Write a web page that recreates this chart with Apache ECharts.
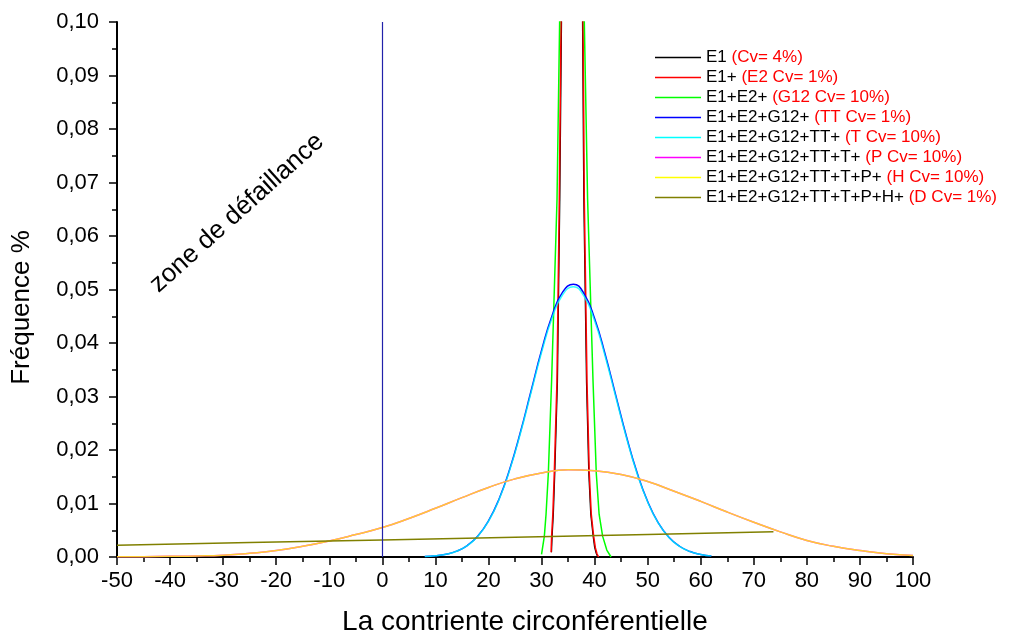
<!DOCTYPE html>
<html>
<head>
<meta charset="utf-8">
<script src="https://cdn.jsdelivr.net/npm/echarts@6/dist/echarts.min.js"></script>
<style>
  html, body { margin: 0; padding: 0; background: #ffffff; }
  #chart { width: 1017px; height: 641px; }
</style>
</head>
<body>
<div id="chart"></div>
<script>
const FONT = '"Liberation Sans", Arial, Helvetica, sans-serif';

// Legend entries: series name (black) followed by the added variable (red)
const seriesNames = [
  'E1', 'E1+', 'E1+E2+', 'E1+E2+G12+', 'E1+E2+G12+TT+',
  'E1+E2+G12+TT+T+', 'E1+E2+G12+TT+T+P+', 'E1+E2+G12+TT+T+P+H+'
];
const seriesNotes = [
  '(Cv= 4%)', '(E2 Cv= 1%)', '(G12 Cv= 10%)', '(TT Cv= 1%)', '(T Cv= 10%)',
  '(P Cv= 10%)', '(H Cv= 10%)', '(D Cv= 1%)'
];
const seriesColors = [
  '#000000', '#ff0000', '#00ff00', '#0000ff', '#00ffff', '#ff00ff', '#ffff00', '#808000'
];

// Y tick labels (French decimal comma)
const yTickLabels = ['0,00', '0,01', '0,02', '0,03', '0,04', '0,05', '0,06', '0,07', '0,08', '0,09', '0,10'];

// Boundary of the failure zone (vertical line)
const failureLimit = 0;

// Frequency curves as [circumferential stress, frequency]
const e1Curve = [
  [31.88, 0.0009], [32.0, 0.0039], [32.23, 0.008], [32.5, 0.0156], [33.0, 0.0326], [33.45, 0.0669],
  [33.77, 0.1], [34.1, 0.15], [34.6, 0.23], [35.1, 0.30], [35.75, 0.34], [36.4, 0.30],
  [36.9, 0.23], [37.4, 0.15], [37.72, 0.1], [37.96, 0.0669], [38.47, 0.0326], [38.9, 0.0156],
  [39.27, 0.008], [39.72, 0.0039], [40.0, 0.0018], [40.3, 0.0007], [40.6, 0]
];
const e2Curve = [
  [31.8, 0.0009], [31.9, 0.0039], [32.13, 0.008], [32.4, 0.0156], [32.9, 0.0326], [33.35, 0.0669],
  [33.67, 0.1], [34.0, 0.15], [34.5, 0.23], [35.0, 0.30], [35.75, 0.342], [36.5, 0.30],
  [37.0, 0.23], [37.5, 0.15], [37.82, 0.1], [38.06, 0.0669], [38.57, 0.0326], [39.0, 0.0156],
  [39.37, 0.008], [39.82, 0.0039], [40.15, 0.0017], [40.45, 0.0006], [40.75, 0]
];
const g12Curve = [
  [30.0, 0.0005], [30.53, 0.0039], [30.85, 0.008], [31.28, 0.0156], [31.9, 0.033], [32.92, 0.0669],
  [33.41, 0.1], [34.0, 0.15], [35.0, 0.195], [35.75, 0.204], [36.5, 0.195], [37.5, 0.15],
  [38.06, 0.1], [38.68, 0.0669], [39.7, 0.033], [40.32, 0.0156], [40.85, 0.008], [41.51, 0.0039],
  [42.3, 0.0013], [43.1, 0]
];
const ttCurve = [
  [8, 0.000101], [10, 0.000232], [12, 0.000525], [14, 0.00109], [16, 0.00214], [18, 0.00392],
  [20, 0.00674], [22, 0.01085], [24, 0.0164], [26, 0.02326], [28, 0.03094], [30, 0.03859],
  [32, 0.04516], [34, 0.04955], [36, 0.0510], [38, 0.04924], [40, 0.04458], [42, 0.03785],
  [44, 0.03016], [46, 0.02252], [48, 0.01578], [50, 0.01037], [52, 0.00639], [54, 0.0037],
  [56, 0.00201], [58, 0.00102], [60, 0.00048], [62, 0.00021]
];
const tCurve = [
  [8, 0.0001], [10, 0.00023], [12, 0.00052], [14, 0.00108], [16, 0.00212], [18, 0.00388],
  [20, 0.00667], [22, 0.01074], [24, 0.01624], [26, 0.02303], [28, 0.03063], [30, 0.03821],
  [32, 0.04471], [34, 0.04906], [36, 0.0505], [38, 0.04875], [40, 0.04414], [42, 0.03748],
  [44, 0.02986], [46, 0.0223], [48, 0.01562], [50, 0.01027], [52, 0.00633], [54, 0.00366],
  [56, 0.00199], [58, 0.00101], [60, 0.00048], [62, 0.00021]
];
const pCurve = [
  [-50, 0.00003], [-45, 0.00006], [-40, 0.00012], [-35, 0.0002], [-30, 0.00035], [-25, 0.0007],
  [-20, 0.0012], [-15, 0.002], [-10, 0.003], [-5, 0.0042], [0, 0.0055], [5, 0.0072],
  [10, 0.0091], [15, 0.0111], [20, 0.0130], [25, 0.0146], [30, 0.0157], [35, 0.0163],
  [40, 0.0161], [45, 0.0154], [50, 0.0141], [55, 0.0123], [60, 0.0104], [65, 0.0084],
  [70, 0.0065], [75, 0.0047], [80, 0.0031], [85, 0.0020], [90, 0.0012], [95, 0.0006], [100, 0.0003]
];
const hCurve = [
  [-50, 0.00003], [-45, 0.00006], [-40, 0.00012], [-35, 0.0002], [-30, 0.00035], [-25, 0.0007],
  [-20, 0.0012], [-15, 0.002], [-10, 0.003], [-5, 0.0042], [0, 0.0055], [5, 0.0072],
  [10, 0.0091], [15, 0.0111], [20, 0.0130], [25, 0.0146], [30, 0.0157], [35, 0.0163],
  [40, 0.0161], [45, 0.0154], [50, 0.0141], [55, 0.0123], [60, 0.0104], [65, 0.0084],
  [70, 0.0065], [75, 0.0047], [80, 0.0031], [85, 0.0020], [90, 0.0012], [95, 0.0006], [100, 0.0003]
];
const dCurve = [
  [-50, 0.0022], [-25, 0.0027], [0, 0.0032], [25, 0.0037], [50, 0.0042], [73.7, 0.0047]
];

const curves = [e1Curve, e2Curve, g12Curve, ttCurve, tCurve, pCurve, hCurve, dCurve];
const smoothFlags = [false, false, false, true, true, true, true, false];
const lineWidths = [1.2, 1.5, 1.5, 1.5, 1.5, 1.5, 1.5, 1.5];
const lineOpacity = [1, 1, 1, 1, 0.8, 1, 0.8, 1];

const chart = echarts.init(document.getElementById('chart'), null, { renderer: 'canvas' });

const series = curves.map((data, i) => ({
  name: seriesNames[i],
  type: 'line',
  data: data,
  smooth: smoothFlags[i],
  symbol: 'none',
  showSymbol: false,
  clip: true,
  color: seriesColors[i],
  lineStyle: { color: seriesColors[i], width: lineWidths[i], opacity: lineOpacity[i] },
  emphasis: { disabled: true },
  animation: false
}));

// failure-zone boundary
series[3].markLine = {
  silent: true,
  symbol: 'none',
  label: { show: false },
  lineStyle: { color: '#2222aa', width: 1.2, type: 'solid' },
  data: [{ xAxis: failureLimit }],
  animation: false
};

const option = {
  backgroundColor: '#ffffff',
  animation: false,
  grid: { left: 117, right: 104, top: 22, bottom: 80 },
  legend: {
    orient: 'vertical',
    left: 655,
    top: 49,
    padding: 0,
    itemGap: 3,
    itemWidth: 46,
    itemHeight: 1.5,
    icon: 'rect',
    data: seriesNames,
    formatter: name => name + ' {r|' + seriesNotes[seriesNames.indexOf(name)] + '}',
    textStyle: {
      fontFamily: FONT, fontSize: 17, color: '#000000', lineHeight: 17,
      rich: { r: { fontFamily: FONT, fontSize: 17, color: '#ff0000', lineHeight: 17 } }
    }
  },
  xAxis: {
    type: 'value',
    min: -50, max: 100, interval: 10,
    name: 'La contriente circonférentielle',
    nameLocation: 'middle',
    nameGap: 51,
    nameTextStyle: { fontFamily: FONT, fontSize: 28, color: '#000000', padding: [0, 0, 0, 20] },
    axisLine: { show: true, onZero: false, lineStyle: { color: '#000000', width: 2 } },
    axisTick: { show: true, length: 8, lineStyle: { color: '#000000', width: 1.5 } },
    minorTick: { show: true, splitNumber: 2, length: 5, lineStyle: { color: '#000000', width: 1.5 } },
    splitLine: { show: false },
    minorSplitLine: { show: false },
    axisLabel: { fontFamily: FONT, fontSize: 22, color: '#000000', margin: 13 }
  },
  yAxis: {
    type: 'value',
    min: 0, max: 0.1, interval: 0.01,
    name: 'Fréquence %',
    nameLocation: 'middle',
    nameRotate: 90,
    nameGap: 82,
    nameTextStyle: { fontFamily: FONT, fontSize: 26, color: '#000000', padding: [0, 36, 0, 0] },
    axisLine: { show: true, onZero: false, lineStyle: { color: '#000000', width: 2 } },
    axisTick: { show: true, length: 8, lineStyle: { color: '#000000', width: 1.5 } },
    minorTick: { show: true, splitNumber: 2, length: 5, lineStyle: { color: '#000000', width: 1.5 } },
    splitLine: { show: false },
    minorSplitLine: { show: false },
    axisLabel: {
      fontFamily: FONT, fontSize: 22, color: '#000000', margin: 18,
      formatter: v => yTickLabels[Math.round(v / 0.01)]
    }
  },
  graphic: [{
    type: 'text',
    x: 237,
    y: 213,
    rotation: 42 * Math.PI / 180,
    silent: true,
    style: {
      text: 'zone de défaillance',
      fontFamily: FONT,
      fontSize: 26,
      fill: '#000000',
      align: 'center',
      verticalAlign: 'middle',
      textAlign: 'center',
      textVerticalAlign: 'middle'
    }
  }],
  series: series
};

chart.setOption(option);
</script>
</body>
</html>
